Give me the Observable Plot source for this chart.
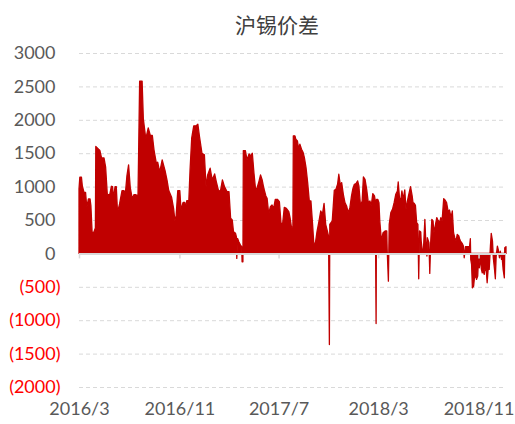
<!DOCTYPE html>
<html><head><meta charset="utf-8">
<script src="https://cdn.jsdelivr.net/npm/d3@7"></script>
<script src="https://cdn.jsdelivr.net/npm/@observablehq/plot@0.6"></script>
<style>
body{margin:0;background:#fff;}
#wrap{position:relative;width:515px;height:424px;overflow:hidden;}
#title{position:absolute;left:177px;width:200px;top:10px;text-align:center;font-family:"Noto Sans CJK SC";font-size:21px;color:#404040;line-height:28px;z-index:2;}
#chart{position:absolute;left:0;top:0;}
</style></head>
<body><div id="wrap"><div id="title">沪锡价差</div><div id="chart"></div></div>
<script>
const chartTitle = "沪锡价差";
const dates = [
"2016-03-01","2016-03-03","2016-03-07","2016-03-09","2016-03-13","2016-03-17","2016-03-20","2016-03-24","2016-03-28","2016-03-30",
"2016-04-02","2016-04-06","2016-04-09","2016-04-10","2016-04-11","2016-04-17","2016-04-21","2016-04-25","2016-05-01","2016-05-05",
"2016-05-09","2016-05-11","2016-05-15","2016-05-19","2016-05-22","2016-05-24","2016-05-28","2016-05-31","2016-06-03","2016-06-08",
"2016-06-14","2016-06-19","2016-06-22","2016-06-26","2016-06-30","2016-07-04","2016-07-09","2016-07-13","2016-07-17","2016-07-21",
"2016-07-23","2016-07-27","2016-08-02","2016-08-05","2016-08-11","2016-08-17","2016-08-22","2016-08-27","2016-08-31","2016-09-06",
"2016-09-09","2016-09-14","2016-09-20","2016-09-27","2016-10-02","2016-10-06","2016-10-13","2016-10-18","2016-10-21","2016-10-24",
"2016-10-28","2016-11-02","2016-11-05","2016-11-10","2016-11-14","2016-11-16","2016-11-19","2016-11-24","2016-11-27","2016-12-01",
"2016-12-06","2016-12-12","2016-12-16","2016-12-20","2016-12-26","2017-01-01","2017-01-05","2017-01-09","2017-01-15","2017-01-20",
"2017-01-26","2017-01-30","2017-02-04","2017-02-09","2017-02-14","2017-02-19","2017-02-25","2017-03-02","2017-03-06","2017-03-10",
"2017-03-13","2017-03-18","2017-03-20","2017-03-21","2017-03-23","2017-03-26","2017-03-30","2017-04-02","2017-04-03","2017-04-05",
"2017-04-06","2017-04-11","2017-04-15","2017-04-20","2017-04-24","2017-04-28","2017-05-02","2017-05-06","2017-05-10","2017-05-14",
"2017-05-18","2017-05-22","2017-05-26","2017-05-31","2017-06-03","2017-06-07","2017-06-11","2017-06-15","2017-06-19","2017-06-23",
"2017-06-28","2017-07-03","2017-07-07","2017-07-11","2017-07-15","2017-07-20","2017-07-26","2017-07-29","2017-08-01","2017-08-03",
"2017-08-05","2017-08-06","2017-08-10","2017-08-12","2017-08-16","2017-08-19","2017-08-22","2017-08-26","2017-08-30","2017-09-02",
"2017-09-06","2017-09-10","2017-09-14","2017-09-18","2017-09-22","2017-09-25","2017-09-29","2017-10-03","2017-10-07","2017-10-12",
"2017-10-16","2017-10-20","2017-10-24","2017-10-28","2017-10-31","2017-11-02","2017-11-03","2017-11-09","2017-11-14","2017-11-18",
"2017-11-22","2017-11-25","2017-11-29","2017-12-02","2017-12-06","2017-12-10","2017-12-14","2017-12-18","2017-12-22","2017-12-26",
"2017-12-29","2018-01-02","2018-01-06","2018-01-10","2018-01-13","2018-01-17","2018-01-21","2018-01-24","2018-01-28","2018-02-01",
"2018-02-05","2018-02-09","2018-02-12","2018-02-16","2018-02-20","2018-02-22","2018-02-24","2018-02-25","2018-02-28","2018-03-03",
"2018-03-05","2018-03-09","2018-03-13","2018-03-18","2018-03-22","2018-03-23","2018-03-26","2018-03-28","2018-04-01","2018-04-05",
"2018-04-09","2018-04-13","2018-04-17","2018-04-19","2018-04-22","2018-04-25","2018-04-28","2018-05-01","2018-05-05","2018-05-08",
"2018-05-11","2018-05-14","2018-05-19","2018-05-23","2018-05-25","2018-05-28","2018-05-31","2018-06-03","2018-06-06","2018-06-08",
"2018-06-10","2018-06-13","2018-06-14","2018-06-17","2018-06-19","2018-06-23","2018-06-25","2018-06-28","2018-06-29","2018-07-03",
"2018-07-05","2018-07-07","2018-07-10","2018-07-13","2018-07-15","2018-07-19","2018-07-22","2018-07-25","2018-07-29","2018-08-01",
"2018-08-04","2018-08-08","2018-08-11","2018-08-15","2018-08-19","2018-08-22","2018-08-26","2018-08-29","2018-09-01","2018-09-04",
"2018-09-07","2018-09-10","2018-09-14","2018-09-16","2018-09-18","2018-09-22","2018-09-25","2018-09-27","2018-09-30","2018-10-05",
"2018-10-10","2018-10-12","2018-10-13","2018-10-15","2018-10-17","2018-10-20","2018-10-22","2018-10-25","2018-10-27","2018-10-30",
"2018-10-31","2018-11-03","2018-11-05","2018-11-08","2018-11-10","2018-11-13","2018-11-15","2018-11-17","2018-11-20","2018-11-22",
"2018-11-25","2018-11-27","2018-11-30","2018-12-02","2018-12-05","2018-12-07","2018-12-10","2018-12-12","2018-12-14","2018-12-17",
"2018-12-19","2018-12-22","2018-12-24","2018-12-27","2018-12-29","2018-12-31","2019-01-03","2019-01-04","2019-01-07"
];
const values = [
965,1140,1140,1015,915,915,690,815,815,715,
315,315,365,380,1600,1565,1540,1430,1430,1290,
890,880,880,1005,1000,815,1000,1000,615,740,
940,940,890,1165,1325,990,815,880,880,865,
880,2580,2580,2015,1715,1880,1765,1765,1550,1340,
1365,1215,1400,1240,1090,940,840,665,490,560,
940,940,650,765,765,680,790,790,1250,1725,
1910,1910,1935,1750,1500,1475,1000,1175,1275,1100,
1190,1075,950,925,1100,1000,925,925,525,500,
325,300,250,-75,225,175,125,100,-125,-125,
1540,1540,1400,1490,1460,1500,1200,950,990,1075,
1175,1100,975,860,825,590,700,725,675,810,
810,775,450,450,690,675,625,535,410,385,
400,1760,1760,1710,1685,1560,1635,1560,1510,1435,
1285,1060,785,785,435,145,160,335,460,635,
585,750,435,335,260,-1365,435,485,945,960,
1035,1185,1010,1060,885,760,710,610,685,860,
960,1035,1045,1085,1010,710,785,1145,1110,960,
760,785,710,895,860,790,-1050,810,810,760,
485,185,310,335,335,60,-415,435,610,660,
760,885,935,1070,835,785,935,810,950,660,
770,860,1000,860,760,750,720,460,435,-380,
335,320,185,35,-15,510,210,-40,235,160,
-300,135,510,485,310,435,535,500,460,535,
485,820,800,760,620,650,535,635,310,235,
185,285,260,210,185,150,110,-65,100,100,
100,220,-90,-165,-515,-490,-365,-340,-390,-340,
-190,-215,-50,-240,-290,-280,-315,-215,-265,-440,
-190,-240,110,300,185,-65,-240,-380,-40,110,
60,-65,35,-90,-90,-240,-365,85,100
];
const yTicks = [-2000,-1500,-1000,-500,0,500,1000,1500,2000,2500,3000];
const xTickDates = ["2016-03-01","2016-11-01","2017-07-01","2018-03-01","2018-11-01"];
const xTickLabels = ["2016/3","2016/11","2017/7","2018/3","2018/11"];

document.getElementById("title").textContent = chartTitle;
const data = dates.map((d, i) => ({date: new Date(d), value: values[i]}));
const xTicks = xTickDates.map((d, i) => ({date: new Date(d), label: xTickLabels[i]}));
const fmtY = v => v < 0 ? "(" + Math.abs(v) + ")" : String(v);
const posTicks = yTicks.filter(v => v >= 0);
const negTicks = yTicks.filter(v => v < 0);

const chart = Plot.plot({
  width: 515, height: 424,
  marginTop: 53, marginBottom: 37, marginLeft: 79, marginRight: 9,
  style: {fontFamily: "Lato", fontSize: "18px", background: "#fff", overflow: "visible"},
  x: {type: "utc", domain: [data[0].date, data[data.length - 1].date], axis: null},
  y: {domain: [-2000, 3000], axis: null},
  marks: [
    Plot.ruleY(yTicks.filter(v => v !== 0), {stroke: "#D9D9D9", strokeDasharray: "4,3", strokeWidth: 1}),
    Plot.areaY(data, {x: "date", y: "value", fill: "#C00000", stroke: "#C00000", strokeWidth: 1.3}),
    Plot.ruleY([0], {stroke: "#D9D9D9", strokeWidth: 2}),
    Plot.ruleX(xTicks, {x: "date", y1: 0, y2: -75, stroke: "#D9D9D9", strokeWidth: 1.5}),
    Plot.text(posTicks, {y: d => d, text: fmtY, frameAnchor: "left", textAnchor: "end", dx: -24, fill: "#595959"}),
    Plot.text(negTicks, {y: d => d, text: fmtY, frameAnchor: "left", textAnchor: "end", dx: -19, fill: "#FF0000"}),
    Plot.text(xTicks, {x: "date", text: "label", frameAnchor: "bottom", dy: 27, fill: "#595959"})
  ]
});
document.getElementById("chart").appendChild(chart);
</script>
</body></html>
